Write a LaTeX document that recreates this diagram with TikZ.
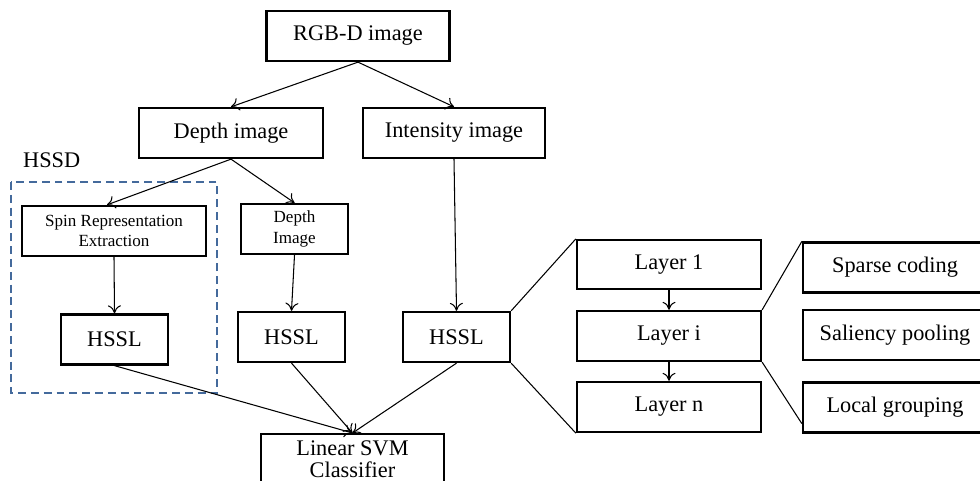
\documentclass[tikz,border=0pt]{standalone}
\usepackage{fontspec}
\setmainfont{Liberation Serif}
\usepackage{xcolor}
\usepackage{tikz}
\usetikzlibrary{arrows.meta,calc,positioning}
\definecolor{hssdblue}{RGB}{68,106,156}

\begin{document}
\begin{tikzpicture}[
  font=\fontsize{12.7}{14.5}\selectfont,
  box/.style={draw, line width=1.3pt, minimum width=3.68cm, minimum height=1.0cm, align=center, inner sep=1pt},
  smallbox/.style={box, minimum width=2.14cm},
  smalltext/.style={font=\fontsize{9.7}{11.5}\selectfont},
  arr/.style={-{To[length=1.6mm,width=2.6mm]}, line width=0.6pt},
  link/.style={line width=0.6pt}
]
\useasboundingbox (0,0) rectangle (19.6,-9.62);
% input and the two image streams
\node[box, minimum width=3.66cm] (rgbd) at (7.16,-0.72) {RGB-D image};
\node[box] (depth) at (4.62,-2.66) {Depth image};
\node[box, minimum width=3.64cm] (intensity) at (9.08,-2.66) {Intensity image};
% HSSD part
\node[anchor=west] (hssdlabel) at (0.34,-3.2) {HSSD};
\draw[hssdblue, line width=1.3pt, dash pattern=on 4.5pt off 2.8pt] (0.22,-3.64) rectangle (4.34,-7.86);
\node[box, smalltext] (spin) at (2.28,-4.62) {Spin Representation\\Extraction};
\node[smallbox, smalltext] (depthimg) at (5.89,-4.58) {Depth\\Image};
\node[smallbox] (hssl1) at (2.29,-6.79) {HSSL};
\node[smallbox] (hssl2) at (5.83,-6.74) {HSSL};
\node[smallbox] (hssl3) at (9.13,-6.74) {HSSL};
\node[box, anchor=north, minimum width=3.66cm, minimum height=1.0cm, font=\fontsize{12.7}{12.6}\selectfont] (svm) at (7.05,-8.66) {Linear SVM\\Classifier};
% layers of HSSL
\node[box, minimum height=0.98cm] (layer1) at (13.38,-5.29) {Layer 1};
\node[box] (layeri) at (13.38,-6.72) {Layer i};
\node[box] (layern) at (13.38,-8.14) {Layer n};
% steps of one layer
\node[box] (sparse) at (17.9,-5.35) {Sparse coding};
\node[box] (saliency) at (17.9,-6.7) {Saliency pooling};
\node[box] (local) at (17.9,-8.15) {Local grouping};

\draw[arr] (rgbd.south) -- (depth.north);
\draw[arr] (rgbd.south) -- (intensity.north);
\draw[arr] (depth.south) -- ($(spin.north)+(-0.14,0)$);
\draw[arr] (depth.south) -- (depthimg.north);
\draw[arr] (intensity.south) -- (hssl3.north);
\draw[arr] (spin.south) -- (hssl1.north);
\draw[arr] (depthimg.south) -- (hssl2.north);
\draw[arr] (hssl1.south) -- (svm.north);
\draw[arr] (hssl2.south) -- (svm.north);
\draw[arr] (hssl3.south) -- (svm.north);
\draw[arr] (layer1.south) -- (layeri.north);
\draw[arr] (layeri.south) -- (layern.north);
\draw[link] (hssl3.north east) -- (layer1.north west);
\draw[link] (hssl3.south east) -- (layern.south west);
\draw[link] (layeri.north east) -- (sparse.north west);
\draw[link] (layeri.south east) -- ($(local.south west)+(0,0.2)$);
\end{tikzpicture}
\end{document}
